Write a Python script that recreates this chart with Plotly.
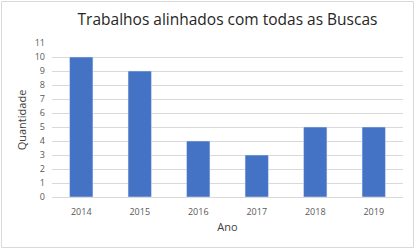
import plotly.graph_objects as go

anos = ["2014", "2015", "2016", "2017", "2018", "2019"]
quantidade = [10, 9, 4, 3, 5, 5]
titulo = "Trabalhos alinhados com todas as Buscas"

W, H = 416, 250
L, R, T, B = 52, 13, 43, 53
pw, ph = W - L - R, H - T - B

fig = go.Figure(go.Bar(x=anos, y=quantidade, marker_color="#4472C4", width=0.4))

def px_x(x):
    return (x - L) / pw

def px_y(y):
    return (H - B - y) / ph

fig.add_shape(type="rect", xref="paper", yref="paper",
              x0=px_x(1.5), x1=px_x(413.5), y0=px_y(247.5), y1=px_y(1.5),
              line=dict(color="#D9D9D9", width=1), fillcolor="rgba(0,0,0,0)", layer="below")

fig.update_layout(
    width=W, height=H,
    margin=dict(l=L, r=R, t=T, b=B),
    paper_bgcolor="white", plot_bgcolor="white",
    font=dict(family="Open Sans", color="#595959"),
    title=dict(text=titulo, x=0.5, xref="paper", y=1 - 20 / H, yanchor="middle",
               font=dict(size=15.5, color="#262626")),
    showlegend=False,
    bargap=0.6,
    xaxis=dict(showgrid=False, showline=True, linecolor="#D9D9D9", ticks="",
               ticklabelstandoff=6,
               tickfont=dict(size=9, color="#595959"),
               title=dict(text="Ano", font=dict(size=11, color="#404040"), standoff=6)),
    yaxis=dict(range=[0, 11], dtick=1, showgrid=True, gridcolor="#D9D9D9", gridwidth=1,
               zeroline=False, ticks="", ticklabelstandoff=6,
               tickfont=dict(size=9, color="#595959"),
               title=dict(text="Quantidade", font=dict(size=11, color="#404040"), standoff=5)),
)

fig.write_html("out.html")
